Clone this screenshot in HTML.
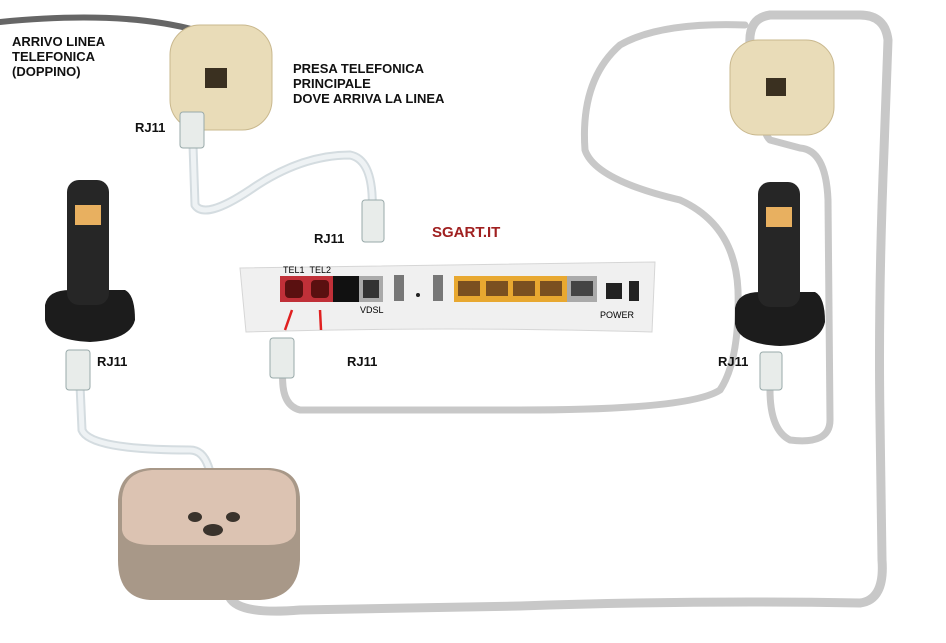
<!DOCTYPE html>
<html><head><style>
body{margin:0;background:#fff;width:946px;height:643px;overflow:hidden;font-family:"Liberation Sans",sans-serif}
.t{position:absolute;font-weight:bold;font-size:13px;color:#111;line-height:15px}
</style></head><body>
<svg width="946" height="643" style="position:absolute;left:0;top:0">
<g fill="none" stroke-linecap="round" stroke-linejoin="round">
<path d="M0 22 Q120 10 195 30" stroke="#666" stroke-width="6"/>
<!-- right big loop -->
<path d="M230 598 Q240 615 300 610 L520 606 Q700 600 860 603 Q885 600 882 560 L880 420 Q878 300 884 150 L888 40 Q885 15 860 15 L770 15 Q748 18 750 45" stroke="#c8c8c8" stroke-width="9"/>
<path d="M745 25 Q660 22 620 45 Q580 80 585 150 Q595 180 680 200 Q735 225 738 290 Q740 360 720 390 Q690 410 520 410 L300 410 Q280 405 283 370" stroke="#c8c8c8" stroke-width="7"/>
<path d="M770 390 Q770 430 790 440 Q830 445 830 420 L828 200 Q826 150 800 148 L770 140 Q760 130 770 110" stroke="#c8c8c8" stroke-width="7"/>
<!-- white cables -->
<path d="M193 145 L195 205 Q205 220 250 190 Q300 155 350 155 Q375 160 372 215" stroke="#d4dce0" stroke-width="9"/>
<path d="M193 145 L195 205 Q205 220 250 190 Q300 155 350 155 Q375 160 372 215" stroke="#eef2f4" stroke-width="5"/>
<path d="M80 385 L82 430 Q90 450 190 450 Q215 450 213 515" stroke="#d4dce0" stroke-width="9"/>
<path d="M80 385 L82 430 Q90 450 190 450 Q215 450 213 515" stroke="#eef2f4" stroke-width="5"/>
</g>
<!-- sockets -->
<rect x="170" y="25" width="102" height="105" rx="30" fill="#e9dcb8" stroke="#c9b88e"/>
<rect x="205" y="68" width="22" height="20" fill="#3a3020"/>
<rect x="730" y="40" width="104" height="95" rx="28" fill="#e9dcb8" stroke="#c9b88e"/>
<rect x="766" y="78" width="20" height="18" fill="#3a3020"/>
<!-- RJ11 plugs -->
<g fill="#e8ecea" stroke="#9aa" stroke-width="1">
<rect x="180" y="112" width="24" height="36" rx="3"/>
<rect x="362" y="200" width="22" height="42" rx="3"/>
<rect x="270" y="338" width="24" height="40" rx="3"/>
<rect x="66" y="350" width="24" height="40" rx="3"/>
<rect x="760" y="352" width="22" height="38" rx="3"/>
</g>
<!-- phones -->
<path d="M45 305 Q48 290 70 290 L125 290 Q135 295 135 320 Q130 340 90 342 Q48 340 45 320Z" fill="#1c1c1c"/>
<rect x="67" y="180" width="42" height="125" rx="12" fill="#262626"/>
<rect x="75" y="205" width="26" height="20" fill="#e8b060"/>
<path d="M735 308 Q738 292 760 292 L815 292 Q825 297 825 322 Q820 345 780 346 Q738 344 735 324Z" fill="#1c1c1c"/>
<rect x="758" y="182" width="42" height="125" rx="12" fill="#262626"/>
<rect x="766" y="207" width="26" height="20" fill="#e8b060"/>
<!-- puck -->
<path d="M118 500 Q120 470 150 468 L270 468 Q300 470 300 500 L300 560 Q298 598 260 600 L150 600 Q118 598 118 560Z" fill="#a89888"/>
<path d="M122 498 Q124 472 152 470 L268 470 Q296 472 296 498 L296 530 Q294 545 268 545 L152 545 Q124 545 122 530Z" fill="#dcc3b2"/>
<ellipse cx="213" cy="530" rx="10" ry="6" fill="#3a332c"/>
<ellipse cx="195" cy="517" rx="7" ry="5" fill="#3a332c"/>
<ellipse cx="233" cy="517" rx="7" ry="5" fill="#3a332c"/>
<!-- router -->
<path d="M240 268 L655 262 L652 332 Q450 326 246 332Z" fill="#f0f0f0" stroke="#d6d6d6"/>
<rect x="280" y="276" width="78" height="26" fill="#c03038"/>
<rect x="285" y="280" width="18" height="18" rx="4" fill="#5a1010"/>
<rect x="311" y="280" width="18" height="18" rx="4" fill="#5a1010"/>
<rect x="333" y="276" width="26" height="26" fill="#111"/>
<rect x="359" y="276" width="24" height="26" fill="#aaa"/><rect x="363" y="280" width="16" height="18" fill="#333"/>
<rect x="394" y="275" width="10" height="26" fill="#777"/>
<circle cx="418" cy="295" r="2" fill="#222"/>
<rect x="433" y="275" width="10" height="26" fill="#777"/>
<rect x="454" y="276" width="113" height="26" fill="#e8a830"/>
<g fill="#7a5020"><rect x="458" y="281" width="22" height="15"/><rect x="486" y="281" width="22" height="15"/><rect x="513" y="281" width="22" height="15"/><rect x="540" y="281" width="22" height="15"/></g>
<rect x="567" y="276" width="30" height="26" fill="#aaa"/><rect x="571" y="281" width="22" height="15" fill="#444"/>
<rect x="606" y="283" width="16" height="16" fill="#222"/>
<rect x="629" y="281" width="10" height="20" fill="#222"/>
<path d="M285 330 L292 310 M321 330 L320 310" stroke="#e02020" stroke-width="2.5"/>
</svg>
<div class="t" style="left:12px;top:34px">ARRIVO LINEA<br>TELEFONICA<br>(DOPPINO)</div>
<div class="t" style="left:293px;top:61px">PRESA TELEFONICA<br>PRINCIPALE<br>DOVE ARRIVA LA LINEA</div>
<div class="t" style="left:135px;top:120px">RJ11</div>
<div class="t" style="left:314px;top:231px">RJ11</div>
<div class="t" style="left:432px;top:225px;color:#a02020;font-size:15px">SGART.IT</div>
<div class="t" style="left:97px;top:354px">RJ11</div>
<div class="t" style="left:347px;top:354px">RJ11</div>
<div class="t" style="left:718px;top:354px">RJ11</div>
<div style="position:absolute;left:283px;top:265px;font-size:9px">TEL1&nbsp;&nbsp;TEL2</div>
<div style="position:absolute;left:360px;top:305px;font-size:9px">VDSL</div>
<div style="position:absolute;left:600px;top:310px;font-size:9px">POWER</div>
</body></html>
